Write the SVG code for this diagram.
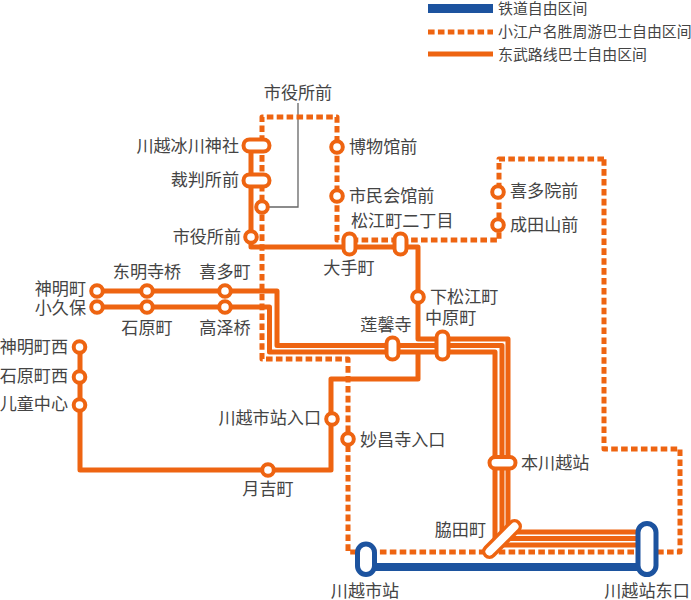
<svg xmlns="http://www.w3.org/2000/svg" width="691" height="600" viewBox="0 0 691 600">
<style>
.s{fill:none;stroke:#EE6411;stroke-width:5;stroke-linejoin:round}
.d{fill:none;stroke:#EE6411;stroke-width:5;stroke-dasharray:6.6 3.3;stroke-linejoin:round}
.b{fill:none;stroke:#1C539F;stroke-width:8}
.c{fill:#fff;stroke:#EE6411;stroke-width:4}
.cb{fill:#fff;stroke:#1C539F;stroke-width:5}
text{font-family:"Noto Sans CJK SC","Noto Sans",sans-serif;font-size:17.1px;fill:#444;font-weight:400}
.l{font-size:14.9px}
.e{text-anchor:end}
.m{text-anchor:middle}
</style>
<g id="legend">
<rect x="428" y="4" width="65" height="9" fill="#1C539F"/>
<path class="d" d="M428 32H493"/>
<path class="s" d="M428 54H493"/>
<text class="l" x="498" y="14">铁道自由区间</text>
<text class="l" x="498" y="37">小江户名胜周游巴士自由区间</text>
<text class="l" x="498" y="60">东武路线巴士自由区间</text>
</g>
<g id="connectors">
<path d="M269 207H298V103" fill="none" stroke="#666" stroke-width="1.3"/>
<path class="d" d="M604 159H499V240H337V117H262V359H348V552H680V449H604V159"/>
<path class="s" d="M251 146V247H418V339H508V532H640"/>
<path class="s" d="M97 291H277V345.500H502V538.500H640"/>
<path class="s" d="M97 307H269.500V352H495V545H640"/>
<path class="s" d="M80 347V470H331V379H418V352"/>
<path class="b" d="M366 567H647"/>
</g>
<g id="n-kawagoe-hikawa"><rect class="c" x="243.500" y="139.500" width="26" height="12" rx="6"/><text class="e" x="239" y="152">川越冰川神社</text></g>
<g id="n-saiban"><rect class="c" x="243.500" y="174.500" width="26" height="12" rx="6"/><text class="e" x="239" y="186">裁判所前</text></g>
<g id="n-shiyakusho-d"><circle class="c" cx="262" cy="207" r="5.800"/><text class="m" x="298" y="99">市役所前</text></g>
<g id="n-shiyakusho"><circle class="c" cx="251" cy="237" r="5.800"/><text class="e" x="241" y="243">市役所前</text></g>
<g id="n-hakubutsu"><circle class="c" cx="337" cy="147" r="5.800"/><text x="349" y="153">博物馆前</text></g>
<g id="n-shimin"><circle class="c" cx="337" cy="196" r="5.800"/><text x="349" y="202">市民会馆前</text></g>
<g id="n-otemachi"><rect class="c" x="343.500" y="233.500" width="12" height="21" rx="6"/><text class="m" x="349" y="274">大手町</text></g>
<g id="n-matsue"><rect class="c" x="394.500" y="233.500" width="12" height="21" rx="6"/><text x="351" y="227">松江町二丁目</text></g>
<g id="n-kitain"><circle class="c" cx="498" cy="192" r="5.800"/><text x="510" y="197">喜多院前</text></g>
<g id="n-naritasan"><circle class="c" cx="498" cy="225" r="5.800"/><text x="510" y="231">成田山前</text></g>
<g id="n-shimomatsue"><circle class="c" cx="418" cy="297" r="5.800"/><text x="430" y="303">下松江町</text></g>
<g id="n-nakahara"><rect class="c" x="436.500" y="331.500" width="12" height="28" rx="6"/><text x="425" y="324">中原町</text></g>
<g id="n-renkei"><rect class="c" x="386.500" y="337.500" width="12" height="22" rx="6"/><text class="m" x="386" y="331">莲馨寺</text></g>
<g id="n-shinmei"><circle class="c" cx="97" cy="291" r="5.800"/><text class="e" x="86" y="295">神明町</text></g>
<g id="n-kokubo"><circle class="c" cx="97" cy="307" r="5.800"/><text class="e" x="86" y="314">小久保</text></g>
<g id="n-tomei"><circle class="c" cx="147" cy="291" r="5.800"/><text class="m" x="147" y="278">东明寺桥</text></g>
<g id="n-kitamachi"><circle class="c" cx="225" cy="291" r="5.800"/><text class="m" x="225" y="278">喜多町</text></g>
<g id="n-ishihara"><circle class="c" cx="147" cy="307" r="5.800"/><text class="m" x="147" y="334">石原町</text></g>
<g id="n-takasawa"><circle class="c" cx="225" cy="307" r="5.800"/><text class="m" x="225" y="334">高泽桥</text></g>
<g id="n-shinmei-nishi"><circle class="c" cx="79.500" cy="347" r="5.800"/><text class="e" x="68" y="353">神明町西</text></g>
<g id="n-ishihara-nishi"><circle class="c" cx="79.500" cy="377" r="5.800"/><text class="e" x="68" y="382">石原町西</text></g>
<g id="n-jido"><circle class="c" cx="79.500" cy="405" r="5.800"/><text class="e" x="68" y="410">儿童中心</text></g>
<g id="n-kawagoeshi-iriguchi"><circle class="c" cx="332" cy="419" r="5.800"/><text class="e" x="321" y="424">川越市站入口</text></g>
<g id="n-myosho"><circle class="c" cx="348" cy="439" r="5.800"/><text x="360" y="446">妙昌寺入口</text></g>
<g id="n-tsukiyoshi"><circle class="c" cx="268" cy="470" r="5.800"/><text class="m" x="268" y="495">月吉町</text></g>
<g id="n-honkawagoe"><rect class="c" x="489.500" y="457" width="26" height="11.500" rx="5.700"/><text x="521" y="469">本川越站</text></g>
<g id="n-wakita"><path d="M489.500 551.500L514.500 526.500" stroke="#EE6411" stroke-width="15" stroke-linecap="round" fill="none"/><path d="M489.500 551.500L514.500 526.500" stroke="#fff" stroke-width="8" stroke-linecap="round" fill="none"/><text class="e" x="486" y="536">脇田町</text></g>
<g id="n-kawagoeshi"><rect class="cb" x="357.500" y="544" width="17" height="30.500" rx="8.500"/><text class="m" x="365" y="597">川越市站</text></g>
<g id="n-kawagoe-east"><rect class="cb" x="638" y="523.500" width="18" height="51" rx="9"/><text class="m" x="647" y="597">川越站东口</text></g>
</svg>
